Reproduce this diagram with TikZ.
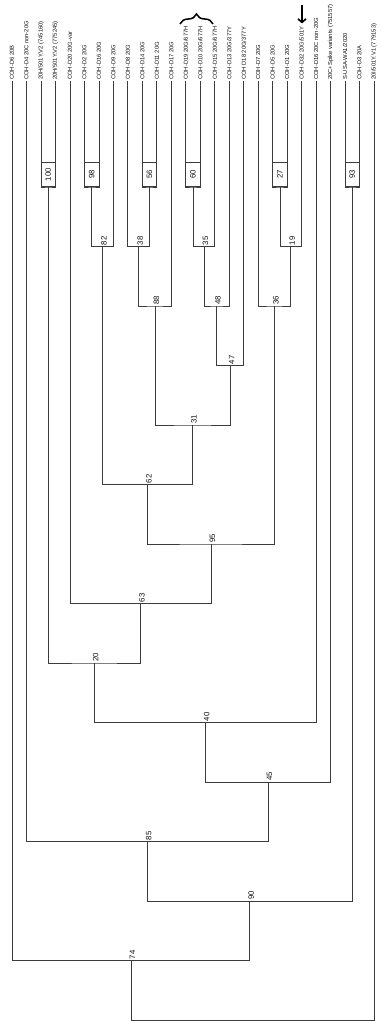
\documentclass[tikz,border=0pt]{standalone}
\usepackage{fontspec}
\setmainfont{Liberation Sans}
\usetikzlibrary{arrows.meta,decorations.pathreplacing}

\begin{document}
\begin{tikzpicture}[x=1pt,y=-1pt,
  branch/.style={draw=drawColor,line width=0.7pt,line join=miter},
  taxon/.style={text=textColor,rotate=90,anchor=west,inner sep=1pt,font=\fontsize{5.8}{6}\selectfont},
  boot/.style={text=textColor,rotate=90,anchor=west,inner sep=1pt,font=\fontsize{7.8}{8}\selectfont},
  bootbox/.style={boot,draw=drawColor,line width=0.7pt,minimum width=24pt,minimum height=14.5pt,inner sep=0pt},
  pointer/.style={draw=black,line width=1.6pt,-{Straight Barb[length=3.5pt,width=8pt]}},
  grouping/.style={draw=black,line width=1.5pt,decorate,decoration={brace,amplitude=10pt}}]
\definecolor{drawColor}{RGB}{60,60,60}
\definecolor{textColor}{RGB}{15,15,15}
\definecolor{fillColor}{RGB}{255,255,255}
\path[use as bounding box,fill=fillColor] (0,0) rectangle (382,1021);

\begin{scope}
% taxa
\node[taxon] (l0) at ( 12.0,81) {COH-D6 20B};

\node[taxon] (l1) at ( 26.5,81) {COH-D4 20C non-20G};

\node[taxon] (l2) at ( 41.0,81) {20H/501Y.V2 (745160)};

\node[taxon] (l3) at ( 55.4,81) {20H/501Y.V2 (775245)};

\node[taxon] (l4) at ( 69.9,81) {COH-D20 20G-var};

\node[taxon] (l5) at ( 84.4,81) {COH-D2 20G};

\node[taxon] (l6) at ( 98.9,81) {COH-D16 20G};

\node[taxon] (l7) at (113.4,81) {COH-D9 20G};

\node[taxon] (l8) at (127.8,81) {COH-D8 20G};

\node[taxon] (l9) at (142.3,81) {COH-D14 20G};

\node[taxon] (l10) at (156.8,81) {COH-D11 20G};

\node[taxon] (l11) at (171.3,81) {COH-D17 20G};

\node[taxon] (l12) at (185.8,81) {COH-D19 20G/677H};

\node[taxon] (l13) at (200.2,81) {COH-D10 20G/677H};

\node[taxon] (l14) at (214.7,81) {COH-D15 20G/677H};

\node[taxon] (l15) at (229.2,81) {COH-D13 20G/377Y};

\node[taxon] (l16) at (243.7,81) {COH D18 20G/377Y};

\node[taxon] (l17) at (258.2,81) {COH-D7 20G};

\node[taxon] (l18) at (272.6,81) {COH-D5 20G};

\node[taxon] (l19) at (287.1,81) {COH-D1 20G};

\node[taxon] (l20) at (301.6,81) {COH-D32 20G/501Y};

\node[taxon] (l21) at (316.1,81) {COH-D16 20C non-20G};

\node[taxon] (l22) at (330.6,81) {20C+Spike variants (751557)};

\node[taxon] (l23) at (345.0,81) {S-USA-WA1/2020};

\node[taxon] (l24) at (359.5,81) {COH-D3 20A};

\node[taxon] (l25) at (374.0,81) {20I/501Y.V1 (779153)};
\end{scope}

\begin{scope}
% internal nodes
\coordinate (n100) at ( 48.20, 187.0);
\coordinate (n98)  at ( 91.65, 187.0);
\coordinate (n56)  at (149.55, 187.0);
\coordinate (n60)  at (193.00, 187.0);
\coordinate (n27)  at (279.85, 187.0);
\coordinate (n93)  at (352.25, 187.0);
\coordinate (n82)  at (102.50, 246.5);
\coordinate (n38)  at (138.70, 246.5);
\coordinate (n35)  at (203.85, 246.5);
\coordinate (n19)  at (290.70, 246.5);
\coordinate (n88)  at (155.00, 306.0);
\coordinate (n48)  at (216.50, 306.0);
\coordinate (n36)  at (274.45, 306.0);
\coordinate (n47)  at (230.10, 365.5);
\coordinate (n31)  at (192.55, 425.0);
\coordinate (n62)  at (147.50, 484.5);
\coordinate (n95)  at (211.00, 544.0);
\coordinate (n63)  at (140.45, 603.5);
\coordinate (n20)  at ( 94.30, 663.0);
\coordinate (n40)  at (205.20, 722.5);
\coordinate (n45)  at (267.90, 782.0);
\coordinate (n85)  at (147.20, 841.5);
\coordinate (n90)  at (249.70, 901.0);
\coordinate (n74)  at (130.85, 960.5);
\coordinate (root) at (252.40,1020.0);

\path[branch] (l2.west) |- (n100) -| (l3.west);

\path[branch] (l5.west) |- (n98) -| (l6.west);

\path[branch] (l9.west) |- (n56) -| (l10.west);

\path[branch] (l12.west) |- (n60) -| (l13.west);

\path[branch] (l18.west) |- (n27) -| (l19.west);

\path[branch] (l23.west) |- (n93) -| (l24.west);

\path[branch] (n98) |- (n82) -| (l7.west);

\path[branch] (l8.west) |- (n38) -| (n56);

\path[branch] (n60) |- (n35) -| (l14.west);

\path[branch] (n27) |- (n19) -| (l20.west);

\path[branch] (n38) |- (n88) -| (l11.west);

\path[branch] (n35) |- (n48) -| (l15.west);

\path[branch] (l17.west) |- (n36) -| (n19);

\path[branch] (n48) |- (n47) -| (l16.west);

\path[branch] (n88) |- (n31) -| (n47);

\path[branch] (n82) |- (n62) -| (n31);

\path[branch] (n62) |- (n95) -| (n36);

\path[branch] (l4.west) |- (n63) -| (n95);

\path[branch] (n100) |- (n20) -| (n63);

\path[branch] (n20) |- (n40) -| (l21.west);

\path[branch] (n40) |- (n45) -| (l22.west);

\path[branch] (l1.west) |- (n85) -| (n45);

\path[branch] (n85) |- (n90) -| (n93);

\path[branch] (l0.west) |- (n74) -| (n90);

\path[branch] (n74) |- (root) -| (l25.west);
\end{scope}

\begin{scope}
% bootstrap values
\node[bootbox] (b100) at (n100) {100};

\node[bootbox] (b98) at (n98) {98};

\node[bootbox] (b56) at (n56) {56};

\node[bootbox] (b60) at (n60) {60};

\node[bootbox] (b27) at (n27) {27};

\node[bootbox] (b93) at (n93) {93};

\node[boot] (b82) at ([xshift=1.5pt]n82) {82};

\node[boot] (b38) at ([xshift=1.5pt]n38) {38};

\node[boot] (b35) at ([xshift=1.5pt]n35) {35};

\node[boot] (b19) at ([xshift=1.5pt]n19) {19};

\node[boot] (b88) at ([xshift=1.5pt]n88) {88};

\node[boot] (b48) at ([xshift=1.5pt]n48) {48};

\node[boot] (b36) at ([xshift=1.5pt]n36) {36};

\node[boot] (b47) at ([xshift=1.5pt]n47) {47};

\node[boot] (b31) at ([xshift=1.5pt]n31) {31};

\node[boot] (b62) at ([xshift=1.5pt]n62) {62};

\node[boot] (b95) at ([xshift=1.5pt]n95) {95};

\node[boot] (b63) at ([xshift=1.5pt]n63) {63};

\node[boot] (b20) at ([xshift=1.5pt]n20) {20};

\node[boot] (b40) at ([xshift=1.5pt]n40) {40};

\node[boot] (b45) at ([xshift=1.5pt]n45) {45};

\node[boot] (b85) at ([xshift=1.5pt]n85) {85};

\node[boot] (b90) at ([xshift=1.5pt]n90) {90};

\node[boot] (b74) at ([xshift=1.5pt]n74) {74};
\end{scope}

% marks
\coordinate (mark) at (302.0,5.0);
\path[pointer,shorten >=2pt] (mark) -- (mark |- l20.east);

\coordinate (braceL) at (180.0,24.0);
\coordinate (braceR) at (213.0,24.0);
\path[grouping] (braceL) -- (braceR);
\end{tikzpicture}
\end{document}
